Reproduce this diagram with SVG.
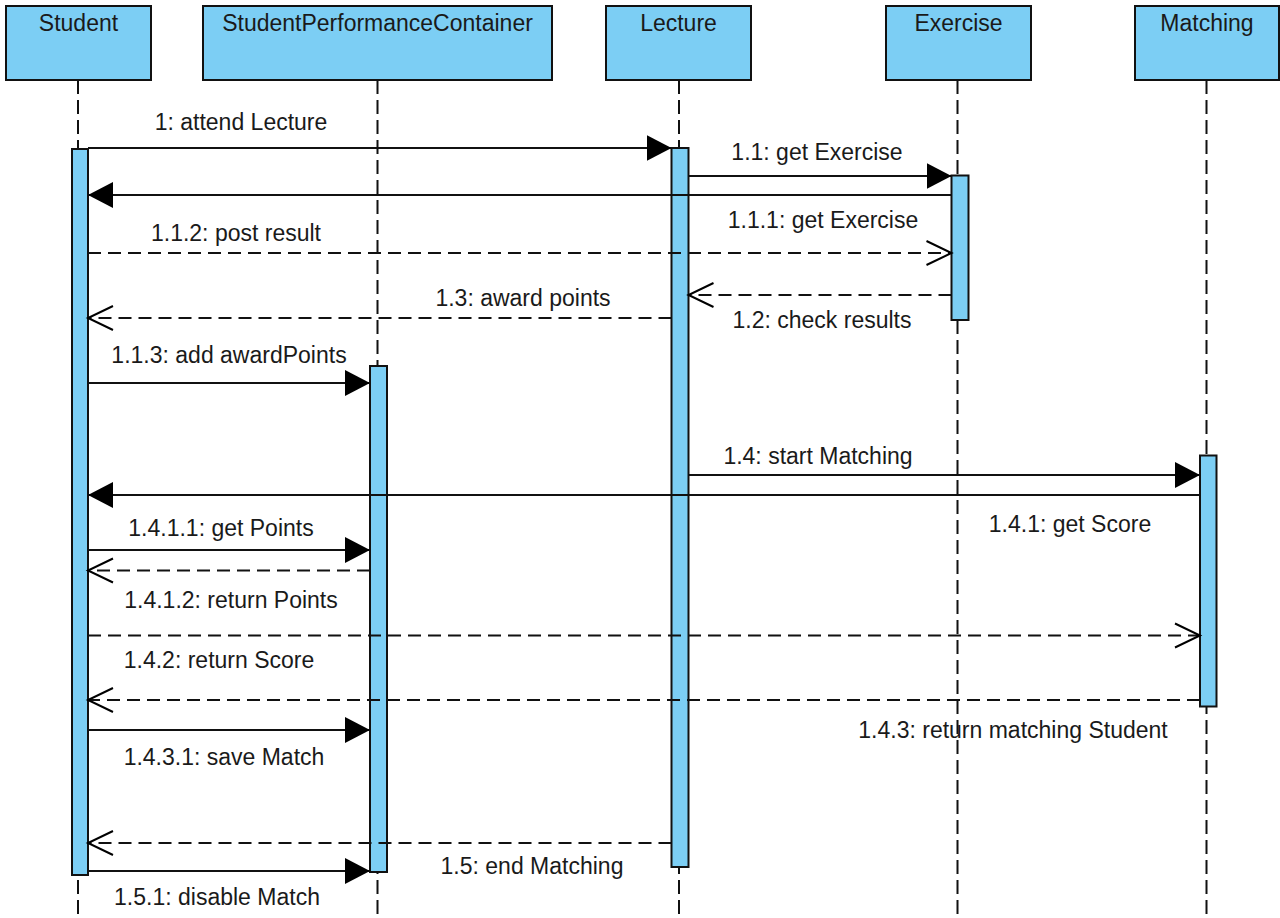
<svg xmlns="http://www.w3.org/2000/svg" width="1280" height="918" viewBox="0 0 1280 918">
<style>
text{font-family:"Liberation Sans",Arial,Helvetica,sans-serif;font-size:23px;fill:#1a1a1a;text-anchor:middle}
.head{fill:#7ccef4;stroke:#111;stroke-width:2}
.life{stroke:#111;stroke-width:2;stroke-dasharray:14 6;fill:none}
.bar{fill:#7ccef4;stroke:#111;stroke-width:2}
.sync{stroke:#111;stroke-width:2;fill:none;marker-end:url(#filled)}
.ret{stroke:#111;stroke-width:2;fill:none;stroke-dasharray:13 7;marker-end:url(#open)}
</style>
<defs>
<marker id="filled" markerUnits="userSpaceOnUse" viewBox="0 0 26 26" refX="25" refY="13" markerWidth="26" markerHeight="26" orient="auto">
<path d="M0,0 L25,13 L0,26 Z" fill="#000"/>
</marker>
<marker id="open" markerUnits="userSpaceOnUse" viewBox="-2 -2 30 28" refX="25" refY="12" markerWidth="30" markerHeight="28" orient="auto" overflow="visible">
<path d="M0,0 L25,12 L0,24" fill="none" stroke="#000" stroke-width="2" stroke-dasharray="none"/>
</marker>
</defs>

<g id="lifelines">
<line class="life" x1="78" y1="80" x2="78" y2="918"/>
<line class="life" x1="377.5" y1="80" x2="377.5" y2="918"/>
<line class="life" x1="679" y1="80" x2="679" y2="918"/>
<line class="life" x1="957.5" y1="80" x2="957.5" y2="918"/>
<line class="life" x1="1206.5" y1="80" x2="1206.5" y2="918"/>
</g>

<g id="Student">
<rect class="head" x="6" y="6" width="145" height="74"/>
<text x="78.5" y="31">Student</text>
<rect class="bar" x="72" y="149" width="16" height="726"/>
</g>
<g id="StudentPerformanceContainer">
<rect class="head" x="203" y="6" width="349" height="74"/>
<text x="377.5" y="31">StudentPerformanceContainer</text>
<rect class="bar" x="370" y="366" width="17" height="506"/>
</g>
<g id="Lecture">
<rect class="head" x="606" y="6" width="145" height="74"/>
<text x="678.5" y="31">Lecture</text>
<rect class="bar" x="671.5" y="148" width="17" height="719"/>
</g>
<g id="Exercise">
<rect class="head" x="886" y="6" width="145" height="74"/>
<text x="958.5" y="31">Exercise</text>
<rect class="bar" x="951.5" y="175.5" width="17" height="144.5"/>
</g>
<g id="Matching">
<rect class="head" x="1135" y="6" width="144" height="74"/>
<text x="1207" y="31">Matching</text>
<rect class="bar" x="1200" y="455.5" width="16.5" height="251"/>
</g>

<g id="connectors">
<line class="sync" x1="88" y1="148" x2="671.5" y2="148"/>
<line class="sync" x1="688.5" y1="176" x2="951.5" y2="176"/>
<line class="sync" x1="951.5" y1="195" x2="88" y2="195"/>
<line class="ret" x1="88" y1="253" x2="951.5" y2="253"/>
<line class="ret" x1="951.5" y1="295" x2="688.5" y2="295"/>
<line class="ret" x1="671.5" y1="318" x2="88" y2="318"/>
<line class="sync" x1="88" y1="383" x2="370" y2="383"/>
<line class="sync" x1="688.5" y1="475" x2="1200" y2="475"/>
<line class="sync" x1="1200" y1="495" x2="88" y2="495"/>
<line class="sync" x1="88" y1="550" x2="370" y2="550"/>
<line class="ret" x1="370" y1="570.5" x2="88" y2="570.5"/>
<line class="ret" x1="88" y1="635.5" x2="1200" y2="635.5"/>
<line class="ret" x1="1200" y1="700" x2="88" y2="700"/>
<line class="sync" x1="88" y1="730" x2="370" y2="730"/>
<line class="ret" x1="671.5" y1="843" x2="88" y2="843"/>
<line class="sync" x1="88" y1="871" x2="370" y2="871"/>
</g>

<g id="labels">
<text x="241" y="130">1: attend Lecture</text>
<text x="817" y="160">1.1: get Exercise</text>
<text x="823" y="228">1.1.1: get Exercise</text>
<text x="236" y="241">1.1.2: post result</text>
<text x="822" y="328">1.2: check results</text>
<text x="523" y="306">1.3: award points</text>
<text x="229" y="363">1.1.3: add awardPoints</text>
<text x="818" y="464">1.4: start Matching</text>
<text x="1070" y="532">1.4.1: get Score</text>
<text x="221" y="536">1.4.1.1: get Points</text>
<text x="231" y="608">1.4.1.2: return Points</text>
<text x="219" y="668">1.4.2: return Score</text>
<text x="1013" y="738">1.4.3: return matching Student</text>
<text x="224" y="765">1.4.3.1: save Match</text>
<text x="532" y="874">1.5: end Matching</text>
<text x="217" y="905">1.5.1: disable Match</text>
</g>
</svg>
